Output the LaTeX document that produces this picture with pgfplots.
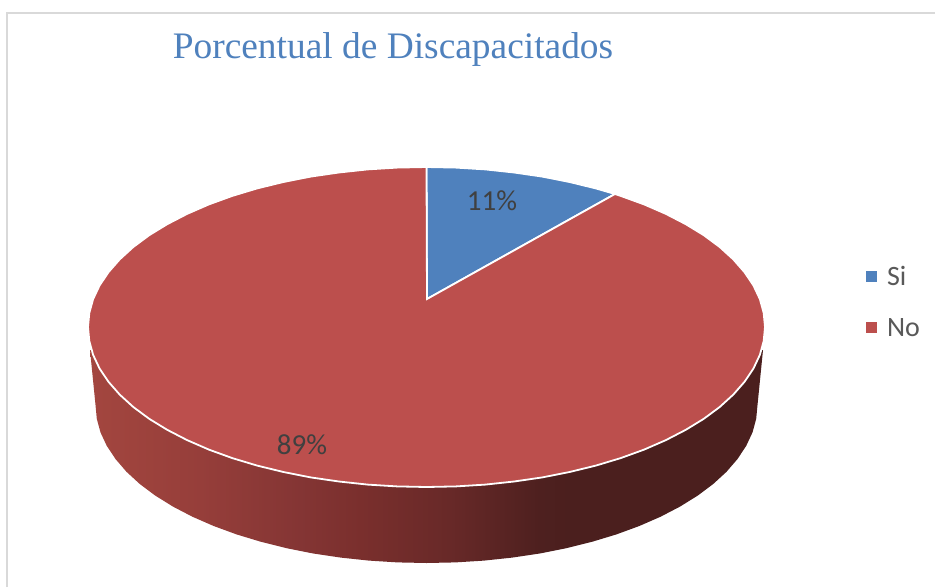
\documentclass[border=0pt]{standalone}
\usepackage{fontspec}
\setmainfont{Carlito}
\newfontfamily\titlefont{Liberation Serif}
\usepackage{pgfplots}
\pgfplotsset{compat=1.18}
\definecolor{siblue}{HTML}{4F81BD}
\definecolor{nored}{HTML}{BC4F4D}
\definecolor{s0}{HTML}{A3463F}
\definecolor{s1}{HTML}{963E3A}
\definecolor{s2}{HTML}{843534}
\definecolor{s3}{HTML}{7A2F2D}
\definecolor{s4}{HTML}{682928}
\definecolor{s5}{HTML}{4E201F}
\definecolor{s6}{HTML}{4B1F1E}
\pgfdeclarehorizontalshading{sideshade}{100bp}{
color(0bp)=(s0);color(25bp)=(s0);color(33.2bp)=(s1);color(40.6bp)=(s2);
color(45.1bp)=(s3);color(51.7bp)=(s4);color(58.4bp)=(s5);color(60.6bp)=(s6);color(100bp)=(s6)}
\begin{document}
\begin{tikzpicture}
\begin{axis}[
  scale only axis, width=935pt, height=587pt,
  xmin=0, xmax=935, ymin=0, ymax=587, y dir=reverse,
  hide axis,
  legend style={draw=none, fill=none, at={(axis cs:863,302)}, anchor=west,
    font=\fontsize{28}{30}\selectfont, text=black!65,
    row sep=25pt, nodes={inner sep=3pt}, legend cell align=left},
  legend image code/.code={\fill[#1,draw=none] (0pt,-5.5pt) rectangle (11pt,5.5pt);\path (17pt,0pt);},
]
% page background
\addplot[forget plot, draw=none, fill=white] coordinates {(0,0)(935,0)(935,587)(0,587)} --cycle;
% chart frame
\addplot[forget plot, draw=black!15, line width=2pt] coordinates {(7,587) (7,12.7) (935,12.7)};
% side wall of the pie
\addplot[forget plot, draw=none, shading=sideshade] coordinates {
(763,350)(757.5,405)(756.2,418.8)(752.5,432.4)(746.2,445.9)(737.5,459)(726.5,471.8)(713.2,484)(697.7,495.6)(680,506.6)(660.6,516.7)(639.3,526)(616.4,534.4)(592,541.8)(566.4,548.2)(539.7,553.5)(512.2,557.6)(484,560.6)(455.4,562.4)(426.5,563)
(397.6,562.4)(369,560.6)(340.8,557.6)(313.3,553.5)(286.6,548.2)(261,541.8)(236.6,534.4)(213.7,526)(192.4,516.7)(173,506.6)(155.3,495.6)(139.8,484)(126.5,471.8)(115.5,459)(106.8,445.9)(100.5,432.4)(96.8,418.8)(95.5,405)(90,350)(426.5,350)
} --cycle;
% Si, 11 %
\addplot[draw=white, line width=1.8pt, fill=siblue] coordinates {
(427,299)(426.5,167)(456,167.6)(485.3,169.4)(514.1,172.5)(542.3,176.6)(569.6,182)(595.8,188.4)(615,194)
} --cycle;
% No, 89 %
\addplot[draw=white, line width=1.8pt, fill=nored] coordinates {
(427,299)(615,194)(620.7,195.9)(644.1,204.4)(665.9,213.9)(685.8,224.2)(703.8,235.2)(719.7,247)(733.3,259.4)(744.6,272.3)(753.5,285.6)(759.9,299.2)(763.7,313)(765,327)
(763.7,341)(759.9,354.8)(753.5,368.4)(744.6,381.7)(733.3,394.6)(719.7,407)(703.8,418.8)(685.8,429.8)(665.9,440.1)(644.1,449.6)(620.7,458.1)(595.8,465.6)(569.6,472)(542.3,477.4)(514.1,481.5)(485.3,484.6)(456,486.4)(426.5,487)
(397,486.4)(367.7,484.6)(338.9,481.5)(310.7,477.4)(283.4,472)(257.2,465.6)(232.3,458.1)(208.9,449.6)(187.1,440.1)(167.2,429.8)(149.2,418.8)(133.3,407)(119.7,394.6)(108.4,381.7)(99.5,368.4)(93.1,354.8)(89.3,341)(88,327)
(89.3,313)(93.1,299.2)(99.5,285.6)(108.4,272.3)(119.7,259.4)(133.3,247)(149.2,235.2)(167.2,224.2)(187.1,213.9)(208.9,204.4)(232.3,195.9)(257.2,188.4)(283.4,182)(310.7,176.6)(338.9,172.5)(367.7,169.4)(397,167.6)(426.5,167)
} --cycle;
\legend{Si,No}
\node[text=black!75, font=\fontsize{29}{30}\selectfont] at (axis cs:492,201) {11\%};
\node[text=black!75, font=\fontsize{29}{30}\selectfont] at (axis cs:302,445) {89\%};
\node[text=siblue, font=\titlefont\fontsize{37.4}{42}\selectfont] at (axis cs:393,50) {Porcentual de Discapacitados};
\end{axis}
\end{tikzpicture}
\end{document}
